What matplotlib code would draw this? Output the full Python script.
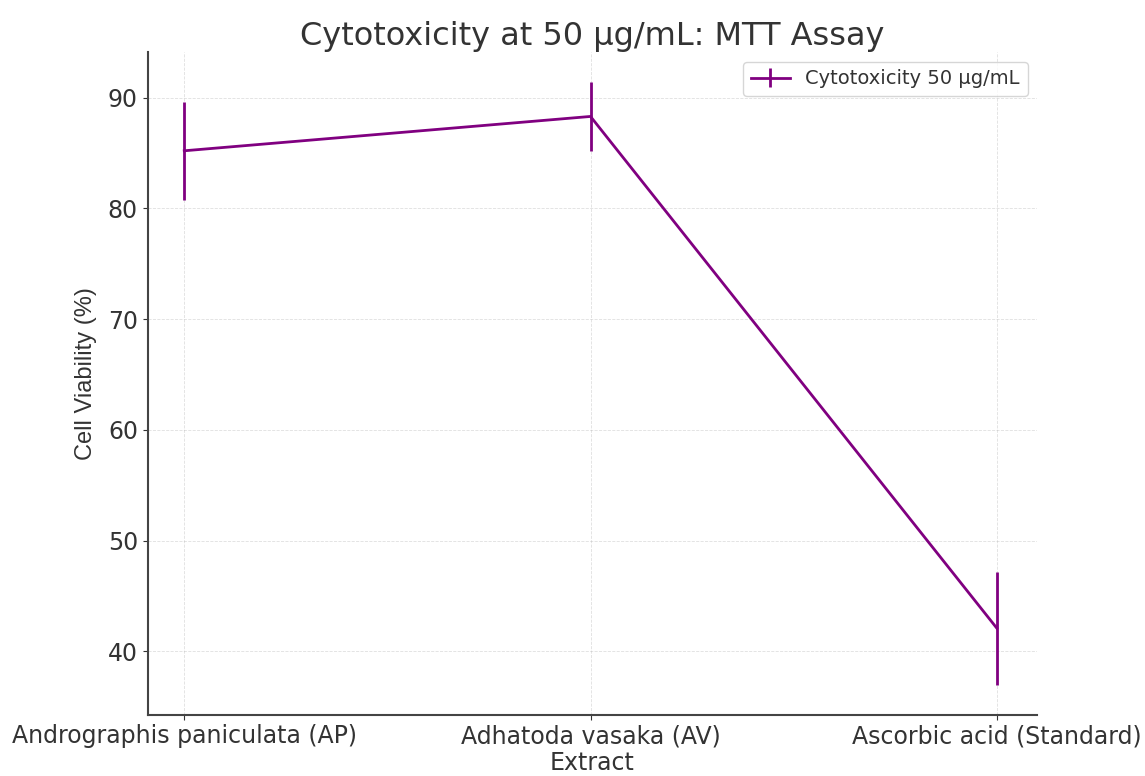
import matplotlib
matplotlib.use("Agg")
import matplotlib.pyplot as plt

# Datos
extractos = ["Andrographis paniculata (AP)", "Adhatoda vasaka (AV)", "Ascorbic acid (Standard)"]
viabilidad = [85.2, 88.3, 42.1]
error = [4.4, 3.1, 5.1]

fig = plt.figure(figsize=(11.45, 7.76), dpi=100)
ax = fig.add_axes([0.129, 0.079, 0.777, 0.854])

ax.errorbar(extractos, viabilidad, yerr=error, color="purple", ecolor="purple",
            linewidth=2, elinewidth=2, capsize=0, label="Cytotoxicity 50 µg/mL")

ax.set_xlim(-0.09, 2.1)
ax.set_title("Cytotoxicity at 50 µg/mL: MTT Assay", fontsize=23, color="#333333", pad=4)
ax.set_xlabel("Extract", fontsize=17, color="#333333", labelpad=2)
ax.set_ylabel("Cell Viability (%)", fontsize=17, color="#333333",
              family=["Liberation Sans", "DejaVu Sans"])
ax.yaxis.set_label_coords(-0.057, 0.515)
ax.tick_params(labelsize=17, colors="#333333")
ax.grid(True, linestyle="--", linewidth=0.6, alpha=0.4)
for s in ("top", "right"):
    ax.spines[s].set_visible(False)
for s in ("left", "bottom"):
    ax.spines[s].set_color("#444444")
    ax.spines[s].set_linewidth(1.5)
ax.legend(loc="upper right", fontsize=14, labelcolor="#333333")

plt.savefig("out.png", dpi=100)
